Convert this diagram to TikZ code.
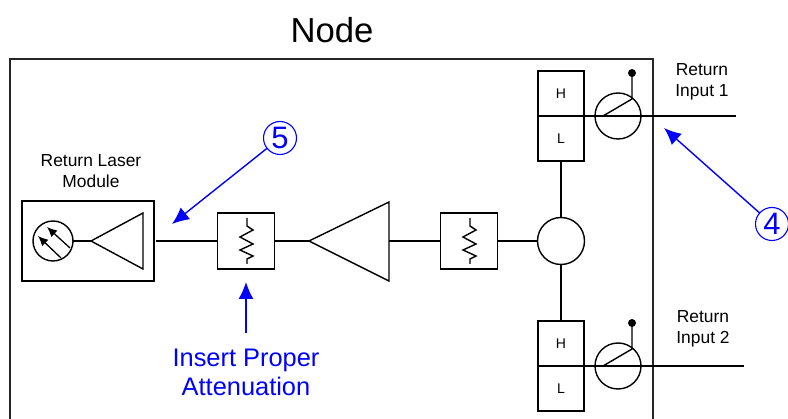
\documentclass[tikz,border=0pt]{standalone}
\usepackage{fontspec}
\setmainfont{Liberation Sans}
\usetikzlibrary{arrows.meta}
\tikzset{
  wire/.style={line width=1.4pt, black},
  smalltxt/.style={font=\fontsize{17.4}{21.5}\selectfont, align=center, inner sep=0pt},
  attbox/.style={draw, line width=1.4pt, minimum width=57pt, minimum height=56pt, inner sep=0pt, outer sep=0pt},
  hlbox/.style={draw, line width=1.4pt, minimum width=46pt, minimum height=45pt, inner sep=0pt, outer sep=0pt, font=\fontsize{14}{16}\selectfont},
  roundpart/.style={draw, circle, line width=1.4pt, inner sep=0pt, outer sep=0pt},
  callout/.style={draw=blue, circle, line width=1.1pt, text=blue, minimum size=33pt, inner sep=0pt, outer sep=0pt, font=\fontsize{31}{34}\selectfont},
  bluearrow/.style={blue, line width=1.4pt, -{Latex[length=17pt,width=15pt]}}
}
\begin{document}
\begin{tikzpicture}[x=1pt, y=-1pt]
    \useasboundingbox (0,0) rectangle (788,419);
    % outer frame, runs off the bottom
    \draw[line width=1.3pt, black!85] (10,419) -- (10,59) -- (653,59) -- (653,419);
    \node[font=\fontsize{34.7}{38}\selectfont, inner sep=0pt] (title) at (332,30) {Node};

    % laser module
    \node[draw, line width=1.4pt, minimum width=132pt, minimum height=80pt, inner sep=0pt, outer sep=0pt] (laser) at (88,241) {};
    \node[smalltxt] (laserlabel) at (91,171) {Return Laser\\Module};
    \node[roundpart, minimum size=40pt] (diode) at (53,241) {};
    \coordinate (laserapex) at (91,241);
    \draw[wire, line join=miter] (laserapex) -- (143,213) -- (143,269) -- cycle;
    \draw[wire] (diode) -- (laserapex);
    \draw[line width=1.3pt, -{Latex[length=10pt,width=9pt]}] (61,258) -- (38,236);
    \draw[line width=1.3pt, -{Latex[length=10pt,width=9pt]}] (70,248) -- (47,227);

    % attenuators with their zigzag
    \node[attbox] (att1) at (246,241) {};
    \node[attbox] (att2) at (469,241) {};
    \foreach \n in {att1,att2} {
        \draw[line width=1.4pt, shift={(\n.center)}] (1,-23) -- (1,-15) -- (7,-11) -- (-6,-4) -- (7,3) -- (-6,9) -- (7,15) -- (1,18) -- (1,23);
    }

    % main amplifier
    \coordinate (ampapex) at (309,241);
    \coordinate (ampout) at (389,241);
    \draw[wire, line join=miter] (ampapex) -- (389,202) -- (389,281) -- cycle;

    % splitter
    \node[roundpart, minimum size=47pt] (split) at (561,241) {};

    % main line
    \coordinate (laserout) at (156,241);
    \draw[wire] (laserout) -- (att1);
    \draw[wire] (att1) -- (ampapex);
    \draw[wire] (ampout) -- (att2);
    \draw[wire] (att2) -- (split);

    % the two return inputs
    \foreach \n/\y/\xend in {1/116/736, 2/366/744} {
        \node[hlbox, anchor=south] (h\n) at (561,\y) {H};
        \node[hlbox, anchor=north] (l\n) at (561,\y) {L};
        \node[roundpart, minimum size=46pt] (pad\n) at (618,\y) {};
        \coordinate (inend\n) at (\xend,\y);
        \draw[wire] (h\n.south west) -- (inend\n);
        \coordinate (needle\n) at (603,\y);
        \coordinate (knee\n) at (632,\y-17);
        \draw[wire, line join=round] (needle\n) -- (knee\n) -- (632,\y-43);
        \fill (632,\y-43) circle (4pt);
    }
    \draw[wire] (l1) -- (split);
    \draw[wire] (h2) -- (split);
    \node[smalltxt] (input1) at (702,82) {Return\\Input 1};
    \node[smalltxt] (input2) at (703,329) {Return\\Input 2};

    % blue callouts
    \node[callout] (five) at (280,138) {5};
    \node[callout] (four) at (772,224) {4};
    \coordinate (fivetip) at (172,224);
    \coordinate (fourtip) at (664,128);
    \draw[bluearrow] (five) -- (fivetip);
    \draw[bluearrow] (four) -- (fourtip);

    \node[font=\fontsize{25.4}{29}\selectfont, text=blue, align=center, inner sep=0pt] (insert) at (246,372) {Insert Proper\\Attenuation};
    \coordinate (insertfrom) at (246,333);
    \coordinate (inserttip) at (246,282);
    \draw[bluearrow] (insertfrom) -- (inserttip);
\end{tikzpicture}
\end{document}
